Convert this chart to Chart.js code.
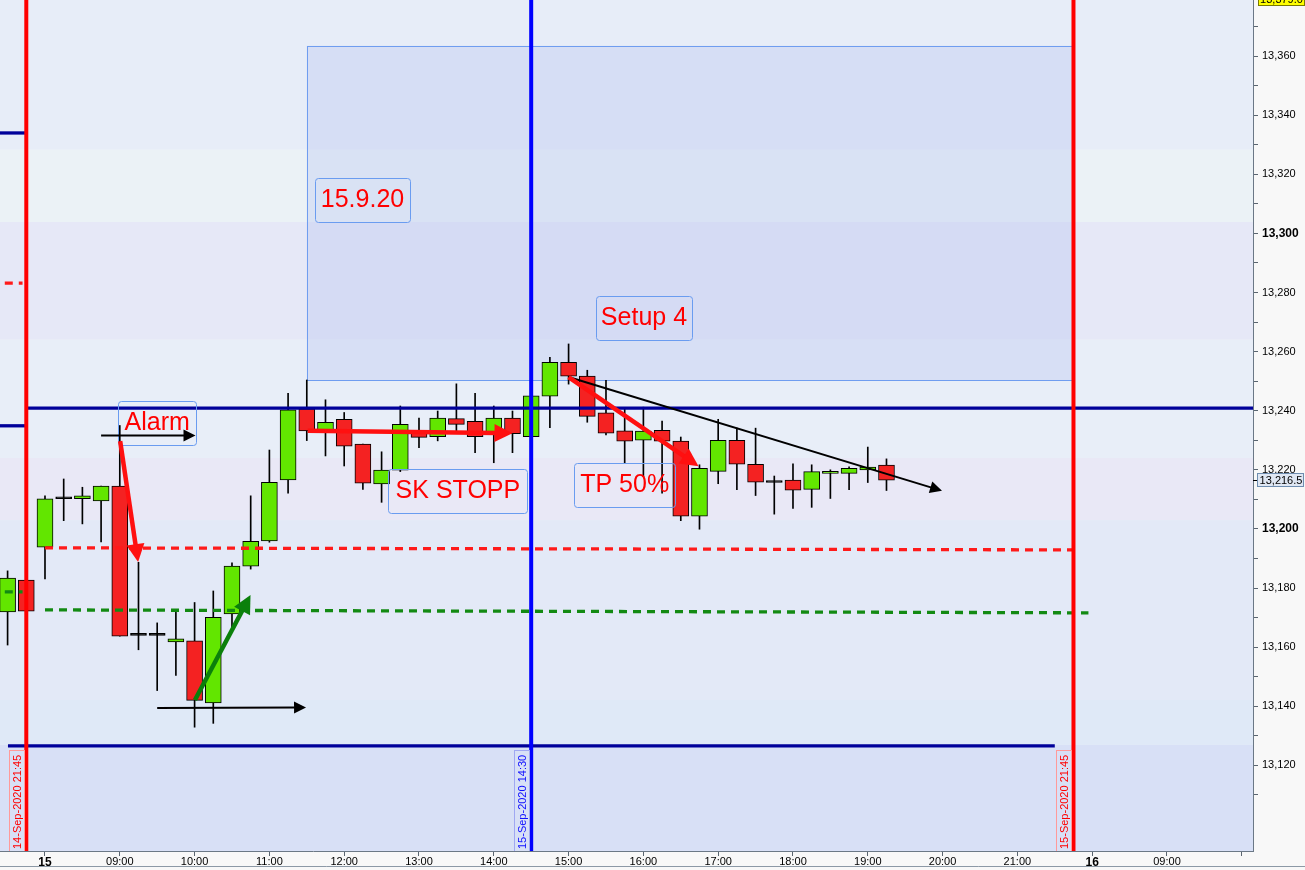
<!DOCTYPE html>
<html><head><meta charset="utf-8">
<script src="https://cdn.jsdelivr.net/npm/chart.js@4.4.1/dist/chart.umd.min.js"></script>
<style>html,body{margin:0;padding:0;background:#f8f8f8;overflow:hidden}canvas{display:block}</style>
</head><body>
<canvas id="c" width="1305" height="870"></canvas>
<script>
// ---------- DATA ----------
// 15-minute candles; index 0 = 14-Sep-2020 21:45, index 1 = 15-Sep-2020 08:00
const candleIndex = [-1,0,1,2,3,4,5,6,7,8,9,10,11,12,13,14,15,16,17,18,19,20,21,22,23,24,25,26,27,28,29,30,31,32,33,34,35,36,37,38,39,40,41,42,43,44,45,46];
const opens  = [13171.9,13182.7,13193.8,13210.2,13210.2,13209.5,13214.5,13164.0,13164.0,13161.8,13162.1,13141.1,13171.2,13187.4,13195.9,13216.6,13240.6,13233.2,13237.1,13228.7,13215.2,13219.9,13233.4,13231.2,13237.3,13236.4,13232.4,13237.5,13231.2,13244.9,13256.4,13251.7,13239.3,13233.2,13230.0,13233.4,13229.7,13204.3,13219.5,13230.0,13221.9,13215.7,13216.5,13213.4,13218.8,13218.8,13220.0,13221.6];
const highs  = [13185.8,13182.7,13211.2,13216.9,13214.1,13214.5,13235.0,13188.7,13168.2,13171.8,13175.1,13179.0,13188.5,13211.2,13226.7,13245.9,13250.4,13243.7,13239.4,13228.7,13226.1,13241.6,13237.5,13239.9,13249.1,13245.9,13241.6,13239.9,13245.0,13258.1,13262.6,13253.7,13250.3,13240.6,13241.2,13236.5,13231.1,13221.7,13237.1,13234.1,13234.1,13217.9,13222.0,13221.7,13220.0,13221.0,13227.7,13223.7];
const lows   = [13160.7,13172.2,13183.1,13202.8,13201.7,13195.6,13163.7,13159.1,13145.3,13150.4,13132.9,13134.2,13166.9,13186.4,13195.5,13212.1,13229.9,13224.7,13221.3,13213.4,13209.0,13219.4,13227.5,13229.8,13232.9,13225.8,13222.4,13225.8,13231.2,13234.3,13249.0,13236.1,13231.8,13222.4,13217.7,13212.1,13202.8,13199.9,13215.3,13213.3,13211.3,13205.0,13206.9,13207.3,13210.3,13213.3,13215.7,13213.0];
const closes = [13183.4,13172.2,13210.2,13210.2,13211.2,13214.5,13163.7,13164.0,13164.0,13162.8,13142.0,13170.1,13187.4,13195.8,13215.8,13240.3,13233.2,13236.1,13228.0,13215.5,13219.9,13235.4,13231.0,13237.5,13235.4,13231.2,13237.5,13232.2,13245.0,13256.4,13251.7,13238.1,13232.4,13229.7,13233.1,13229.7,13204.3,13220.5,13230.0,13221.9,13215.8,13215.7,13213.1,13219.4,13219.5,13220.5,13220.9,13216.5];

const xTickPos    = [1,5,9,13,17,21,25,29,33,37,41,45,49,53,57,61,65];
const xTickLabels = ['15','09:00','10:00','11:00','12:00','13:00','14:00','15:00','16:00','17:00','18:00','19:00','20:00','21:00','16','09:00',''];
const yTickValues = [13110,13120,13130,13140,13150,13160,13170,13180,13190,13200,13210,13220,13230,13240,13250,13260,13270,13280,13290,13300,13310,13320,13330,13340,13350,13360,13370];

const lastPrice = 13216.5;
const topPrice = 13379.0;

// vertical time markers [index, label]
const vMarkIndex = [0, 27, 56];
const vMarkLabels = ['14-Sep-2020 21:45','15-Sep-2020 14:30','15-Sep-2020 21:45'];

// horizontal solid levels [x1, x2, price]
const navyLevels = [[0, 65.6, 13240.9],[-0.98, 55.0, 13126.6],[-1.41, 0, 13334.0],[-1.41, 0, 13234.9]];
// dashed levels [x1, price1, x2, price2]
const redDashed   = [[1, 13193.6, 56, 13192.9],[-1.15, 13283.2, -0.2, 13283.2]];
const greenDashed = [[1, 13172.6, 56.8, 13171.6],[-1.15, 13178.7, -0.2, 13178.7]];
// zone rectangle [x1, price top, x2, price bottom]
const zoneRect = [15, 13363.5, 56, 13250.4];

// text boxes [x1, priceTop, x2, priceBottom]
const noteTexts = ['15.9.20','Setup 4','Alarm','SK STOPP','TP 50%'];
const noteBoxes = [[15.44,13318.8,20.52,13303.9],[30.46,13278.8,35.6,13264.0],[4.92,13243.2,9.08,13228.4],[19.36,13220.4,26.8,13205.5],[29.3,13222.3,34.7,13207.5]];

// arrows [x1, p1, x2, p2]
const blackArrows = [[4.0,13231.6,9.05,13231.6],[7.0,13139.4,14.96,13139.6],[29.0,13251.4,48.97,13212.9]];
const redArrows   = [[5.02,13229.7,5.98,13188.8],[15.05,13233.2,26.0,13232.4],[29.0,13251.4,35.95,13221.2]];
const greenArrows = [[9.02,13142.1,11.99,13177.6]];

// background price bands [from, to]
const bandRanges = [[13379,13328.3],[13328.3,13303.9],[13303.9,13264.0],[13264.0,13224.0],[13224.0,13203.0],[13203.0,13142.1],[13142.1,13126.9],[13126.9,13085]];

// ---------- STYLE ----------
const bandColors = ['#e7edf8','#ebf2f6','#e6e8f7','#e8eef8','#e9e8f6','#e3e9f7','#dfe9f7','#d8e0f6'];
const GREEN = '#62e600', RED = '#f42222';
const FONT = '"Liberation Sans", Arial, sans-serif';

function fmt(v, d){ return v.toLocaleString('en-US',{minimumFractionDigits:d, maximumFractionDigits:d}); }

function drawArrow(ctx,x1,y1,x2,y2,color,w,hl,hw){
  const a = Math.atan2(y2-y1,x2-x1);
  const bx = x2-hl*Math.cos(a), by = y2-hl*Math.sin(a);
  ctx.strokeStyle=color; ctx.lineWidth=w; ctx.lineCap='butt';
  ctx.beginPath(); ctx.moveTo(x1,y1); ctx.lineTo(bx+Math.cos(a)*2,by+Math.sin(a)*2); ctx.stroke();
  ctx.fillStyle=color; ctx.beginPath(); ctx.moveTo(x2,y2);
  ctx.lineTo(bx+hw*Math.sin(a), by-hw*Math.cos(a));
  ctx.lineTo(bx-hw*Math.sin(a), by+hw*Math.cos(a));
  ctx.closePath(); ctx.fill();
}

const decor = {
  id:'decor',
  beforeDraw(chart){
    const c=chart.ctx; c.save(); c.fillStyle='#f8f8f8'; c.fillRect(0,0,chart.width,chart.height); c.restore();
  },
  beforeDatasetsDraw(chart){
    const c=chart.ctx, a=chart.chartArea, X=chart.scales.x, Y=chart.scales.y;
    c.save(); c.beginPath(); c.rect(a.left,a.top,a.right-a.left,a.bottom-a.top); c.clip();
    bandRanges.forEach((b,i)=>{ const y1=Y.getPixelForValue(b[0]), y2=Y.getPixelForValue(b[1]);
      c.fillStyle=bandColors[i]; c.fillRect(a.left,y1,a.right-a.left,y2-y1); });
    const rx1=X.getPixelForValue(zoneRect[0]), ry1=Y.getPixelForValue(zoneRect[1]), rx2=X.getPixelForValue(zoneRect[2]), ry2=Y.getPixelForValue(zoneRect[3]);
    c.fillStyle='rgba(175,190,238,0.30)'; c.fillRect(rx1,ry1,rx2-rx1,ry2-ry1);
    c.strokeStyle='#6f9df0'; c.lineWidth=1; c.strokeRect(Math.round(rx1)+0.5,Math.round(ry1)+0.5,Math.round(rx2-rx1),Math.round(ry2-ry1));
    c.restore();
  },
  afterDatasetsDraw(chart){
    const c=chart.ctx, a=chart.chartArea, X=chart.scales.x, Y=chart.scales.y;
    const px=v=>X.getPixelForValue(v), py=v=>Y.getPixelForValue(v);
    c.save(); c.beginPath(); c.rect(a.left,a.top,a.right-a.left,a.bottom-a.top); c.clip();
    // navy levels
    c.strokeStyle='#00009a'; c.lineWidth=3.3;
    navyLevels.forEach(l=>{ c.beginPath(); c.moveTo(px(l[0]),py(l[2])); c.lineTo(px(l[1]),py(l[2])); c.stroke(); });
    // dashed
    c.setLineDash([8,6]); c.lineWidth=3.3;
    c.strokeStyle='#ff1a1a';
    redDashed.forEach(l=>{ c.beginPath(); c.moveTo(px(l[0]),py(l[1])); c.lineTo(px(l[2]),py(l[3])); c.stroke(); });
    c.strokeStyle='#138a13';
    greenDashed.forEach(l=>{ c.beginPath(); c.moveTo(px(l[0]),py(l[1])); c.lineTo(px(l[2]),py(l[3])); c.stroke(); });
    c.setLineDash([]);
    // vertical markers
    vMarkIndex.forEach((v,i)=>{ c.strokeStyle = i===1 ? '#0000ff' : '#ff0000'; c.lineWidth=4;
      c.beginPath(); c.moveTo(px(v),a.top); c.lineTo(px(v),a.bottom); c.stroke(); });
    // date boxes
    c.font='11px '+FONT;
    vMarkIndex.forEach((v,i)=>{ const xr=Math.round(px(v))-2, xl=xr-15, yt=750, yb=a.bottom+1;
      c.strokeStyle = i===1 ? '#a0a8f2' : '#ff9a9a'; c.lineWidth=1;
      c.strokeRect(xl+0.5,yt+0.5,xr-xl,yb-yt);
      c.save(); c.translate(xl+8.5, yb-3); c.rotate(-Math.PI/2);
      c.fillStyle = i===1 ? '#1010ff' : '#ff0000'; c.textAlign='left'; c.textBaseline='middle';
      c.fillText(vMarkLabels[i],0,0); c.restore(); });
    // note boxes
    noteBoxes.forEach((b,i)=>{ const x1=px(b[0]), y1=py(b[1]), x2=px(b[2]), y2=py(b[3]);
      c.strokeStyle='#6a9cf0'; c.lineWidth=1; c.beginPath(); c.roundRect(Math.round(x1)+0.5,Math.round(y1)+0.5,Math.round(x2-x1),Math.round(y2-y1),3); c.stroke();
      c.fillStyle='#ff0000'; c.font='25px '+FONT; c.textAlign='center'; c.textBaseline='middle';
      c.fillText(noteTexts[i],(x1+x2)/2,(y1+y2)/2); });
    // arrows
    blackArrows.forEach(r=>drawArrow(c,px(r[0]),py(r[1]),px(r[2]),py(r[3]),'#000',2,12,6));
    redArrows.forEach(r=>drawArrow(c,px(r[0]),py(r[1]),px(r[2]),py(r[3]),'#ff1010',4.5,18,9));
    greenArrows.forEach(r=>drawArrow(c,px(r[0]),py(r[1]),px(r[2]),py(r[3]),'#0b800b',4.5,18,9));
    c.restore();
  },
  afterDraw(chart){
    const c=chart.ctx, a=chart.chartArea, Y=chart.scales.y;
    c.save();
    c.font='11px '+FONT; c.textAlign='center'; c.textBaseline='middle';
    // top yellow price label
    let y=Y.getPixelForValue(topPrice);
    c.fillStyle='#ffff00'; c.fillRect(a.right+5,y-7,47,13); c.strokeStyle='#7a7a00'; c.lineWidth=1; c.strokeRect(a.right+5.5,y-6.5,46,12);
    c.fillStyle='#000'; c.fillText(fmt(topPrice,1),a.right+28.5,y);
    // last price label
    y=Math.round(Y.getPixelForValue(lastPrice));
    c.fillStyle='#dfe7f3'; c.fillRect(a.right+4,y-7,47,14); c.strokeStyle='#6e8db0'; c.strokeRect(a.right+4.5,y-6.5,46,13);
    c.fillStyle='#000'; c.fillText(fmt(lastPrice,1),a.right+28,y+0.5);
    c.strokeStyle='#000'; c.beginPath(); c.moveTo(a.right,y+0.5); c.lineTo(a.right+4,y+0.5); c.stroke();
    // bottom frame line
    c.strokeStyle='#8c99a6'; c.beginPath(); c.moveTo(0,866.5); c.lineTo(chart.width,866.5); c.stroke();
    c.restore();
  }
};

new Chart(document.getElementById('c'), {
  type:'bar',
  data:{ datasets:[
    { label:'body', order:0, grouped:false,
      data: candleIndex.map((x,k)=>({x:x, y:[opens[k], closes[k]]})),
      barThickness:16, minBarLength:2, borderWidth:1, borderColor:'#000', borderSkipped:false,
      backgroundColor: ctx=>{ const k=ctx.dataIndex; return closes[k]>opens[k]?GREEN:(closes[k]<opens[k]?RED:'#000'); } },
    { label:'wick', order:1, grouped:false,
      data: candleIndex.map((x,k)=>({x:x, y:[lows[k], highs[k]]})),
      barThickness:1, borderWidth:0, backgroundColor:'#000' }
  ]},
  options:{
    responsive:false, animation:false, devicePixelRatio:1,
    layout:{padding:0},
    plugins:{legend:{display:false}, tooltip:{enabled:false}},
    scales:{
      x:{ type:'linear', min:-1.406, max:65.6, offset:false,
        grid:{display:true, offset:false, drawOnChartArea:false, drawTicks:true, tickLength:5, color:'#5a6570'},
        border:{display:true, color:'#6b7886', width:1},
        afterBuildTicks: s=>{ s.ticks = xTickPos.map(v=>({value:v})); },
        afterFit: s=>{ s.height=19; s.paddingLeft=0; s.paddingRight=0; },
        ticks:{ autoSkip:false, maxRotation:0, minRotation:0, padding:-1, color:'#000',
          font: c=>{ const b = c.tick && (c.tick.value===1||c.tick.value===57); return {family:FONT, size:b?12:11, weight:b?'bold':'normal'}; },
          callback: v=>{ const i=xTickPos.indexOf(v); return i>=0?xTickLabels[i]:''; } } },
      y:{ type:'linear', position:'right', min:13091.0, max:13379.0,
        grid:{display:true, offset:false, drawOnChartArea:false, drawTicks:true, tickLength:5, color:'#5a6570'},
        border:{display:true, color:'#6b7886', width:1},
        afterBuildTicks: s=>{ s.ticks = yTickValues.map(v=>({value:v})); },
        afterFit: s=>{ s.width=52; s.paddingTop=0; s.paddingBottom=0; },
        ticks:{ autoSkip:false, padding:4, color:'#000', crossAlign:'near',
          font: c=>{ const b = c.tick && c.tick.value%100===0; return {family:FONT, size:b?12:11, weight:b?'bold':'normal'}; },
          callback: v=> (v%20===0 ? fmt(v,0) : '') } }
    }
  },
  plugins:[decor]
});
</script>
</body></html>
